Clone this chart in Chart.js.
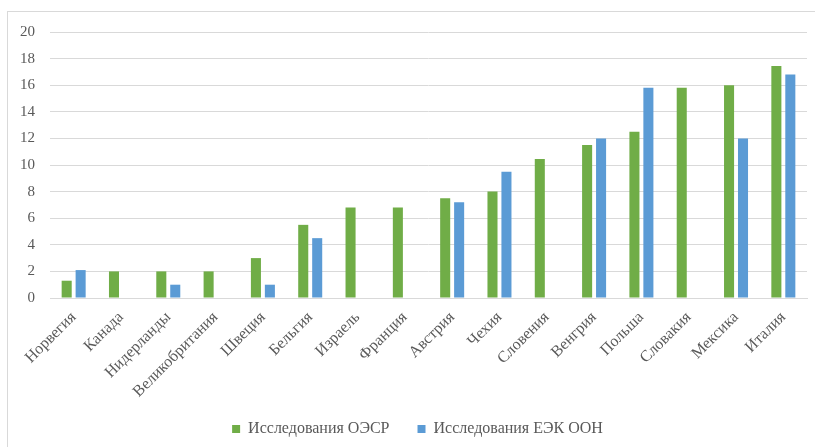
<!DOCTYPE html>
<html>
<head>
<meta charset="utf-8">
<script src="https://cdn.jsdelivr.net/npm/chart.js@4/dist/chart.umd.min.js"></script>
<style>
  html, body { margin: 0; padding: 0; background: #fff; overflow: hidden; }
  .chart-container { position: relative; width: 815px; height: 447px; }
  .frame { position: absolute; left: 7px; top: 11px; width: 900px; height: 500px;
           border: 1px solid #d9d9d9; pointer-events: none; }
</style>
</head>
<body>
<div class="chart-container">
  <canvas id="barChart" width="815" height="447"></canvas>
  <div class="frame"></div>
</div>
<script>
  const countries = ["Норвегия", "Канада", "Нидерланды", "Великобритания", "Швеция", "Бельгия",
    "Израель", "Франция", "Австрия", "Чехия", "Словения", "Венгрия", "Польша", "Словакия",
    "Мексика", "Италия"];
  const oecdValues = [1.3, 2, 2, 2, 3, 5.5, 6.8, 6.8, 7.5, 8, 10.45, 11.5, 12.5, 15.8, 16, 17.45];
  const uneceValues = [2.1, null, 1, null, 1, 4.5, null, null, 7.2, 9.5, null, 12, 15.8, null, 12, 16.8];
  const yTicks = { min: 0, max: 20, step: 2 };

  const textColor = "#595959";
  const serif = "'Liberation Serif', 'Times New Roman', serif";

  // legend sits a little right of centre; long x labels run into the legend box
  const layoutTweaks = {
    id: "layoutTweaks",
    afterLayout(chart) {
      chart.legend.left += 14;
      chart.legend.right += 14;
      chart.scales.x.bottom += 20;
      chart.scales.x.height += 20;
    },
  };

  (function initializeChart() {
    const ctx = document.getElementById("barChart").getContext("2d");

    new Chart(ctx, {
      type: "bar",
      data: {
        labels: countries,
        datasets: [
          {
            label: "Исследования ОЭСР",
            data: oecdValues,
            backgroundColor: "#70ad47",
            borderWidth: 0,
          },
          {
            label: "Исследования ЕЭК ООН",
            data: uneceValues,
            backgroundColor: "#5b9bd5",
            borderWidth: 0,
          },
        ],
      },
      plugins: [layoutTweaks],
      options: {
        responsive: false,
        animation: false,
        datasets: {
          bar: { categoryPercentage: 0.59, barPercentage: 0.72 },
        },
        layout: { padding: { top: 32, right: 8, left: 0, bottom: 0 } },
        plugins: {
          tooltip: { enabled: false },
          legend: {
            position: "bottom",
            labels: {
              boxWidth: 8,
              boxHeight: 8,
              padding: 28,
              color: textColor,
              font: { family: serif, size: 16 },
            },
          },
        },
        scales: {
          x: {
            afterFit: (scale) => { scale.height = 95; },
            grid: { display: false, drawTicks: false },
            border: { color: "#d9d9d9" },
            ticks: {
              autoSkip: false,
              maxRotation: 45,
              minRotation: 45,
              padding: 10,
              color: textColor,
              font: { family: serif, size: 16 },
            },
          },
          y: {
            min: yTicks.min,
            max: yTicks.max,
            afterFit: (scale) => { scale.width = 50; },
            grid: { color: "#d9d9d9", drawTicks: false },
            border: { display: false },
            ticks: {
              stepSize: yTicks.step,
              padding: 15,
              color: textColor,
              font: { family: serif, size: 15 },
            },
          },
        },
      },
    });
  })();
</script>
</body>
</html>
